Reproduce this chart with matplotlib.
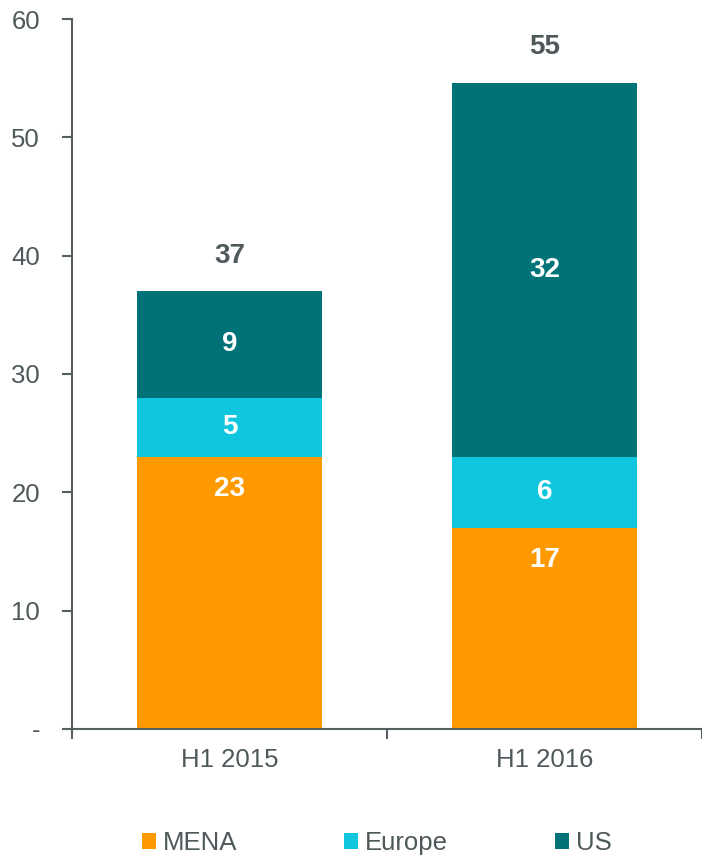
import matplotlib
matplotlib.use("Agg")
import matplotlib.pyplot as plt
import numpy as np

plt.rcParams['font.family'] = ['Liberation Sans', 'DejaVu Sans']

categories = ['H1 2015', 'H1 2016']
series_names = ['MENA', 'Europe', 'US']
mena = [23, 17]
europe = [5, 6]
us = [9, 31.6]
colors = ['#FF9900', '#0FC6DE', '#007378']
yticks = [0, 10, 20, 30, 40, 50, 60]
ytick_labels = ['-', '10', '20', '30', '40', '50', '60']

axis_col = '#555E61'
text_col = '#4F585B'

fig = plt.figure(figsize=(7.02, 8.57), dpi=100)
ax = fig.add_axes([0.1026, 0.1494, 0.8974, 0.8284])

x = np.arange(len(categories))
bottom = np.zeros(len(categories))
for i, (name, vals, c) in enumerate(zip(series_names, [mena, europe, us], colors)):
    vals = np.array(vals, dtype=float)
    ax.bar(x, vals, 0.59, bottom=bottom, color=c, label=name)
    for xi, b, v in zip(x, bottom, vals):
        # bottom series labelled near its top edge, the rest centred
        ypos = b + v - 2.7 if i == 0 else b + v / 2
        ax.text(xi, ypos, f"{v:.0f}", ha='center', va='center',
                color='white', fontsize=20, fontweight='bold')
    bottom += vals

for xi, t in zip(x, bottom):
    ax.text(xi, t + 3.0, f"{t:.0f}", ha='center', va='center',
            color=text_col, fontsize=20, fontweight='bold')

ax.set_xlim(-0.5, 1.5)
ax.set_ylim(0, 60)
ax.set_yticks(yticks)
ax.set_yticklabels(ytick_labels)
ax.set_xticks(x)
ax.set_xticklabels(categories)
ax.set_xticks([-0.5, 0.5, 1.5], minor=True)

for s in ['top', 'right']:
    ax.spines[s].set_visible(False)
for s in ['left', 'bottom']:
    ax.spines[s].set_color(axis_col)
    ax.spines[s].set_linewidth(1.5)

ax.tick_params(axis='y', direction='out', length=7, width=1.5, color=axis_col,
               labelcolor=text_col, labelsize=18.5, pad=16)
ax.tick_params(axis='x', which='major', length=0, labelcolor=text_col,
               labelsize=18.5, pad=14)
ax.tick_params(axis='x', which='minor', direction='out', length=7, width=1.5,
               color=axis_col)

leg = fig.legend(loc='center', bbox_to_anchor=(0.537, 0.016), ncol=3, frameon=False,
                 fontsize=18.5, handlelength=0.55, handleheight=0.55, handletextpad=0.27,
                 columnspacing=4.15, labelcolor=text_col)

fig.savefig('out.png', dpi=100)
